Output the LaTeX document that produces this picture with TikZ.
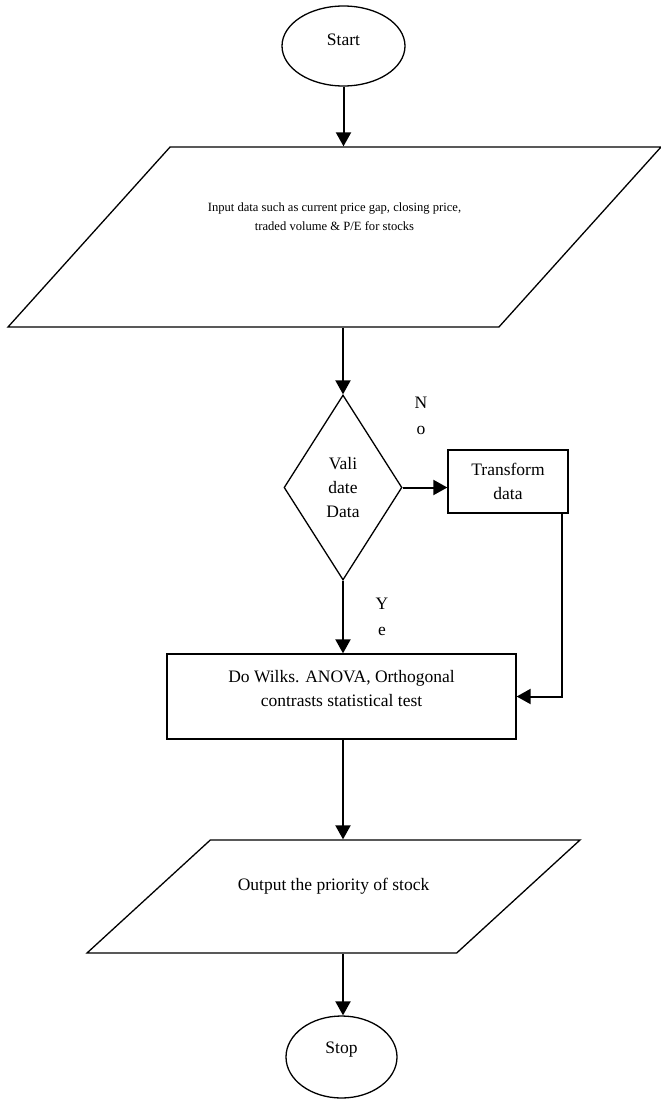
\documentclass[tikz,border=0pt]{standalone}
\usepackage{fontspec}
\setmainfont{Liberation Serif}
\usetikzlibrary{shapes.geometric,arrows.meta}

\begin{document}
\begin{tikzpicture}[x=1pt, y=-1pt,
                    terminal/.style={ellipse, draw, line width=1.3pt, inner sep=0pt},
                    io/.style={trapezium, trapezium stretches body, draw, line width=1.3pt, inner sep=0pt, align=center},
                    process/.style={rectangle, draw, line width=1.3pt, inner sep=0pt, align=center},
                    decision/.style={diamond, draw, line width=1.3pt, inner sep=0pt, align=center},
                    answer/.style={align=center, inner sep=0pt, font=\fontsize{17.5}{26}\selectfont},
                    flow/.style={-{Triangle[length=14pt, width=15pt]}, line width=2pt}]
\fontsize{17.5}{24}\selectfont
\useasboundingbox (0,0) rectangle (661,1100);
\node[terminal, minimum width=123pt, minimum height=80pt, text depth=12pt] (start) at (343.5,46) {Start};
\node[io, trapezium left angle=48, trapezium right angle=132, minimum width=653pt,
      text height=83pt, text depth=97pt, font=\fontsize{12.6}{19}\selectfont] (input) at (334.5,237)
    {Input data such as current price gap, closing price,\\traded volume \& P/E for stocks};
\node[decision, minimum width=118pt, minimum height=185pt] (validate) at (343,487.5) {Vali\\date\\Data};
\node[process, minimum width=120pt, minimum height=63pt] (transform) at (508,481.5) {Transform\\data};
\node[process, minimum width=349pt, minimum height=85pt, text depth=17pt] (tests) at (341.5,696.5)
    {Do Wilks. ANOVA, Orthogonal\\contrasts statistical test};
\node[io, trapezium left angle=42.5, trapezium right angle=137.5, minimum width=493pt,
      text height=50pt, text depth=63pt] (output) at (333.5,896.5) {Output the priority of stock};
\node[terminal, minimum width=111pt, minimum height=82pt, text depth=18pt] (stop) at (341.5,1057) {Stop};

% branch labels
\node[answer] (no) at (421,416) {N\\o};
\node[answer] (yes) at (382,617) {Y\\e};

\draw[flow] (start.south) -- (start.south |- input.north);
\draw[flow] (input.south -| validate.north) -- (validate.north);
\draw[flow] (validate.east) -- (validate.east -| transform.west);
\draw[flow] (validate.south) -- (validate.south |- tests.north);
\draw[flow] ([xshift=-7pt]transform.south east) |- (tests.east);
\draw[flow] (tests.south -| validate.south) -- (output.north -| validate.south);
\draw[flow] (output.south -| validate.south) -- (stop.north -| validate.south);
\end{tikzpicture}
\end{document}
